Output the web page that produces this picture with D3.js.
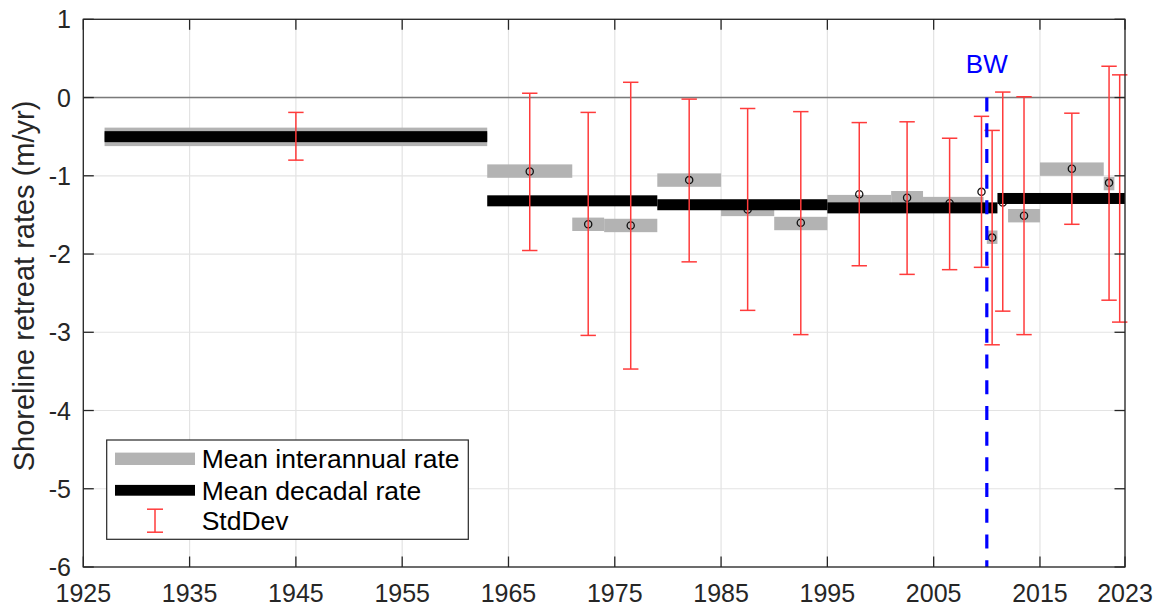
<!DOCTYPE html>
<html>
<head>
<meta charset="utf-8">
<script src="https://cdn.jsdelivr.net/npm/d3@7"></script>
<style>
  body { margin: 0; background: #fff; }
  text { font-family: "Liberation Sans", Arial, sans-serif; }
</style>
</head>
<body>
<script>
// Chart size
let width = 1158;
let height = 606;

// Mean decadal rate: [start year, end year, rate]
let decadal_start = [1927, 1963, 1979, 1995, 2011];
let decadal_end   = [1963, 1979, 1995, 2011, 2023];
let decadal_rate  = [-0.50, -1.32, -1.37, -1.41, -1.29];

// Mean interannual rate
let inter_start = [1927, 1927, 1963, 1971, 1974, 1979, 1985, 1990, 1995, 2001, 2004, 2010, 2012, 2015, 2021];
let inter_end   = [1963, 1963, 1971, 1974, 1979, 1985, 1990, 1995, 2001, 2004, 2009.7, 2011, 2015, 2021, 2022];
let inter_rate  = [-0.47, -0.535, -0.94, -1.62, -1.635, -1.055, -1.43, -1.61, -1.33, -1.28, -1.355, -1.785, -1.51, -0.915, -1.10];

// Points with standard deviation
let pt_year  = [1945, 1967, 1972.5, 1976.5, 1982, 1987.5, 1992.5, 1998, 2002.5, 2006.5, 2009.5, 2010.5, 2011.5, 2013.5, 2018, 2021.5, 2022.5];
let pt_mean  = [-0.50, -0.945, -1.62, -1.635, -1.055, -1.43, -1.60, -1.235, -1.28, -1.35, -1.205, -1.79, -1.34, -1.51, -0.91, -1.09, -1.30];
let pt_upper = [-0.19, 0.055, -0.19, 0.195, -0.02, -0.14, -0.18, -0.32, -0.31, -0.52, -0.24, -0.42, 0.07, 0.01, -0.20, 0.40, 0.29];
let pt_lower = [-0.80, -1.955, -3.04, -3.47, -2.10, -2.72, -3.03, -2.15, -2.26, -2.20, -2.17, -3.16, -2.73, -3.03, -1.62, -2.59, -2.87];

let x_ticks = [1925, 1935, 1945, 1955, 1965, 1975, 1985, 1995, 2005, 2015, 2023];
let y_ticks = [-6, -5, -4, -3, -2, -1, 0, 1];

let bw_year = 2010;
let legend_labels = ["Mean interannual rate", "Mean decadal rate", "StdDev"];

// Colours
let gray_color = "#b3b3b3";
let red_color = "#ff3b3b";
let axis_color = "#262626";
let grid_color = "#e3e3e3";

let svg = d3.select("body")
            .append("svg")
            .attr("width", width)
            .attr("height", height);

let x = d3.scaleLinear().domain([1925, 2023]).range([83.3, 1125]);
let y = d3.scaleLinear().domain([-6, 1]).range([567, 19.3]);

// Grid
svg.append("g").selectAll("line").data(x_ticks).join("line")
    .attr("x1", d => x(d)).attr("x2", d => x(d))
    .attr("y1", y(1)).attr("y2", y(-6))
    .attr("stroke", grid_color).attr("stroke-width", 1.2);
svg.append("g").selectAll("line").data(y_ticks).join("line")
    .attr("x1", x(1925)).attr("x2", x(2023))
    .attr("y1", d => y(d)).attr("y2", d => y(d))
    .attr("stroke", grid_color).attr("stroke-width", 1.2);

// Zero line
svg.append("line")
    .attr("x1", x(1925)).attr("x2", x(2023))
    .attr("y1", y(0)).attr("y2", y(0))
    .attr("stroke", "#7a7a7a").attr("stroke-width", 1.4);

// Interannual bars
let gray_h = 13.4;
svg.append("g").selectAll("rect").data(inter_rate).join("rect")
    .attr("x", (d, i) => x(inter_start[i]))
    .attr("width", (d, i) => x(inter_end[i]) - x(inter_start[i]))
    .attr("y", d => y(d) - gray_h / 2)
    .attr("height", gray_h)
    .attr("fill", gray_color);

// Circles
svg.append("g").selectAll("circle").data(pt_mean).join("circle")
    .attr("cx", (d, i) => x(pt_year[i]))
    .attr("cy", d => y(d))
    .attr("r", 3.6)
    .attr("fill", "none")
    .attr("stroke", "#111")
    .attr("stroke-width", 1.3);

// Decadal bars
let black_h = 11;
svg.append("g").selectAll("rect").data(decadal_rate).join("rect")
    .attr("x", (d, i) => x(decadal_start[i]))
    .attr("width", (d, i) => x(decadal_end[i]) - x(decadal_start[i]))
    .attr("y", d => y(d) - black_h / 2)
    .attr("height", black_h)
    .attr("fill", "#000");

// Error bars
let cap = 7.7;
let err = svg.append("g").attr("stroke", red_color).attr("stroke-width", 1.5);
pt_year.forEach(function(yr, i) {
    let cx = x(yr);
    err.append("line").attr("x1", cx).attr("x2", cx)
        .attr("y1", y(pt_upper[i])).attr("y2", y(pt_lower[i]));
    err.append("line").attr("x1", cx - cap).attr("x2", cx + cap)
        .attr("y1", y(pt_upper[i])).attr("y2", y(pt_upper[i]));
    err.append("line").attr("x1", cx - cap).attr("x2", cx + cap)
        .attr("y1", y(pt_lower[i])).attr("y2", y(pt_lower[i]));
});

// BW line
svg.append("line")
    .attr("x1", x(bw_year)).attr("x2", x(bw_year))
    .attr("y1", y(0)).attr("y2", y(-6))
    .attr("stroke", "#0000ff").attr("stroke-width", 3.2)
    .attr("stroke-dasharray", "14,11.7");
svg.append("text")
    .attr("x", x(bw_year)).attr("y", 73.3)
    .attr("text-anchor", "middle")
    .attr("font-size", 26)
    .attr("fill", "#0000ff")
    .text("BW");

// Axes box and ticks
svg.append("rect")
    .attr("x", x(1925)).attr("y", y(1))
    .attr("width", x(2023) - x(1925)).attr("height", y(-6) - y(1))
    .attr("fill", "none").attr("stroke", axis_color).attr("stroke-width", 1.3);

let tick_len = 10.5;
let ticks = svg.append("g").attr("stroke", axis_color).attr("stroke-width", 1.3);
x_ticks.forEach(function(t) {
    ticks.append("line").attr("x1", x(t)).attr("x2", x(t)).attr("y1", y(-6)).attr("y2", y(-6) - tick_len);
    ticks.append("line").attr("x1", x(t)).attr("x2", x(t)).attr("y1", y(1)).attr("y2", y(1) + tick_len);
});
y_ticks.forEach(function(t) {
    ticks.append("line").attr("x1", x(1925)).attr("x2", x(1925) + tick_len).attr("y1", y(t)).attr("y2", y(t));
    ticks.append("line").attr("x1", x(2023)).attr("x2", x(2023) - tick_len).attr("y1", y(t)).attr("y2", y(t));
});

svg.append("g").selectAll("text").data(x_ticks).join("text")
    .attr("x", d => x(d)).attr("y", 601.5)
    .attr("text-anchor", "middle")
    .attr("font-size", 25)
    .attr("fill", axis_color)
    .text(d => d);

svg.append("g").selectAll("text").data(y_ticks).join("text")
    .attr("x", 71).attr("y", d => y(d) + 9)
    .attr("text-anchor", "end")
    .attr("font-size", 25)
    .attr("fill", axis_color)
    .text(d => d);

svg.append("text")
    .attr("transform", "translate(34,286) rotate(-90)")
    .attr("text-anchor", "middle")
    .attr("font-size", 29)
    .attr("fill", axis_color)
    .text("Shoreline retreat rates (m/yr)");

// Legend
let legend = svg.append("g");
legend.append("rect")
    .attr("x", 106.7).attr("y", 440)
    .attr("width", 361.6).attr("height", 99.3)
    .attr("fill", "#fff").attr("stroke", axis_color).attr("stroke-width", 1.2);

let row_y = [458.8, 490.3, 520.7];
legend.append("rect").attr("x", 115).attr("y", row_y[0] - 6.2).attr("width", 80).attr("height", 12.4).attr("fill", gray_color);
legend.append("rect").attr("x", 115).attr("y", row_y[1] - 5.4).attr("width", 80).attr("height", 10.8).attr("fill", "#000");
let lg_err = legend.append("g").attr("stroke", red_color).attr("stroke-width", 1.5);
lg_err.append("line").attr("x1", 155).attr("x2", 155).attr("y1", row_y[2] - 11.5).attr("y2", row_y[2] + 11.5);
lg_err.append("line").attr("x1", 147).attr("x2", 163).attr("y1", row_y[2] - 11.5).attr("y2", row_y[2] - 11.5);
lg_err.append("line").attr("x1", 147).attr("x2", 163).attr("y1", row_y[2] + 11.5).attr("y2", row_y[2] + 11.5);

legend.selectAll("text.lbl").data(legend_labels).join("text")
    .attr("class", "lbl")
    .attr("x", 201.7).attr("y", (d, i) => row_y[i] + 9.3)
    .attr("font-size", 26.5)
    .attr("fill", "#000")
    .text(d => d);
</script>
</body>
</html>
